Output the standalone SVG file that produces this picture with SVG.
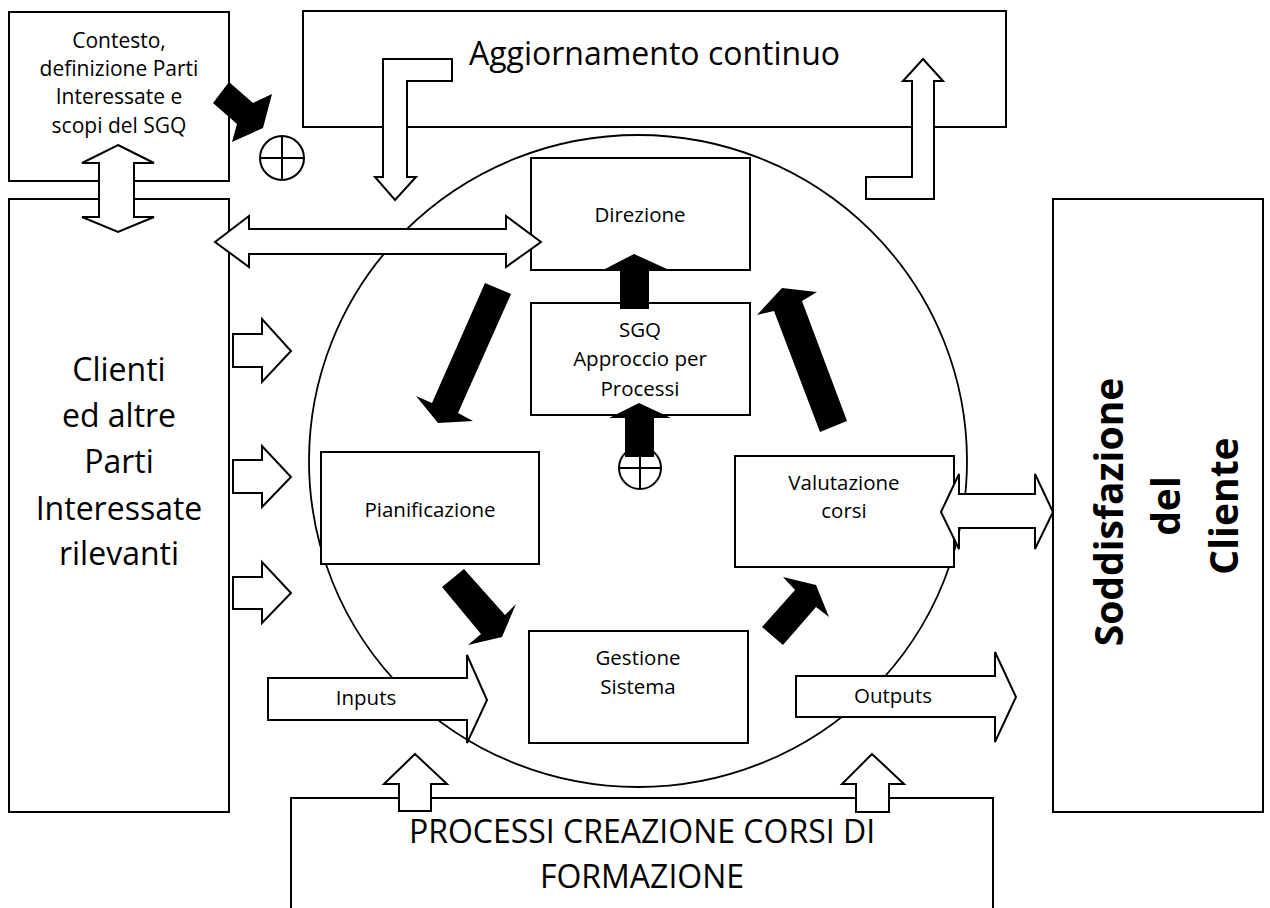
<svg xmlns="http://www.w3.org/2000/svg" width="1270" height="908" viewBox="0 0 1270 908">
<style>
.box{fill:#fff;stroke:#000;stroke-width:2}
.hollow{fill:#fff;stroke:#000;stroke-width:2;stroke-linejoin:miter}
.solid{fill:#000;stroke:none}
.ring{fill:#fff;stroke:#000;stroke-width:2}
.cross{stroke:#000;stroke-width:2}
text{font-family:"Open Sans","Liberation Sans",sans-serif;fill:#000}
.s{font-size:20.5px;text-anchor:middle}
.m{font-size:21px;text-anchor:middle}
.l{font-size:32px;text-anchor:middle}
.b{font-size:39px;font-weight:bold;text-anchor:middle}
</style>
<rect width="1270" height="908" fill="#fff"/>
<g id="cycle"><ellipse cx="638" cy="461" rx="329" ry="326" fill="none" stroke="#000" stroke-width="1.8"/></g>
<g id="n-contesto"><rect class="box" x="9" y="12" width="220" height="169"/>
<text class="m" x="119" y="48">Contesto,</text><text class="m" x="119" y="76">definizione Parti</text><text class="m" x="119" y="104">Interessate e</text><text class="m" x="119" y="133">scopi del SGQ</text></g>
<g id="n-aggiornamento"><rect class="box" x="303" y="11" width="703" height="116"/><text class="l" x="654.5" y="65">Aggiornamento continuo</text></g>
<g id="n-clienti"><rect class="box" x="9" y="199" width="220" height="613"/>
<text class="l" x="119" y="381">Clienti</text><text class="l" x="119" y="427">ed altre</text><text class="l" x="119" y="473">Parti</text><text class="l" x="119" y="520">Interessate</text><text class="l" x="119" y="565">rilevanti</text></g>
<g id="n-soddisfazione"><rect class="box" x="1053" y="199" width="210" height="613"/>
<text class="b" x="1123" y="512" transform="rotate(-90 1123 512)">Soddisfazione</text>
<text class="b" x="1180" y="506" transform="rotate(-90 1180 506)">del</text>
<text class="b" x="1238" y="506" transform="rotate(-90 1238 506)">Cliente</text></g>
<g id="n-direzione"><rect class="box" x="531" y="158" width="219" height="112"/><text class="s" x="640" y="222">Direzione</text></g>
<g id="n-sgq"><rect class="box" x="531" y="303" width="219" height="112"/><text class="s" x="640" y="337">SGQ</text><text class="s" x="640" y="366">Approccio per</text><text class="s" x="640" y="396">Processi</text></g>
<g id="n-pianificazione"><rect class="box" x="321" y="452" width="218" height="112"/><text class="s" x="430" y="517">Pianificazione</text></g>
<g id="n-valutazione"><rect class="box" x="735" y="456" width="219" height="111"/><text class="s" x="844" y="490">Valutazione</text><text class="s" x="844" y="518">corsi</text></g>
<g id="n-gestione"><rect class="box" x="529" y="631" width="219" height="112"/><text class="s" x="638" y="665">Gestione</text><text class="s" x="638" y="694">Sistema</text></g>
<g id="n-processi"><rect class="box" x="291" y="798" width="702" height="130"/><text class="l" x="642" y="843">PROCESSI CREAZIONE CORSI DI</text><text class="l" x="642" y="888">FORMAZIONE</text></g>
<g id="j-top"><circle class="ring" cx="282" cy="158" r="22"/><path class="cross" d="M260,158H304M282,136V180"/></g>
<g id="j-center"><circle class="ring" cx="640" cy="468" r="21"/><path class="cross" d="M619,468H661M640,447V489"/></g>
<g id="connectors">
<polygon class="hollow" points="383,59 452,59 452,81 407,81 407,177 416,177 395,200 375,177 383,177"/>
<polygon class="hollow" points="923,59 943,81 934,81 934,199 866,199 866,177 912,177 912,81 903,81"/>
<polygon class="hollow" points="118,145 154,163 134,163 134,217 154,217 118,232 82,217 99,217 99,163 82,163"/>
<polygon class="hollow" points="215,242 249,216 249,229 506,229 506,216 541,242 506,267 506,254 249,254 249,267"/>
<polygon class="hollow" points="233,334 262,334 262,319 291,351 262,382 262,367 233,367"/>
<polygon class="hollow" points="233,460 262,460 262,446 291,477 262,507 262,493 233,493"/>
<polygon class="hollow" points="233,577 262,577 262,562 291,593 262,623 262,609 233,609"/>
<polygon class="hollow" points="268,678 467,678 467,655 487,700 467,743 467,720 268,720"/>
<polygon class="hollow" points="796,676 995,676 995,652 1016,697 995,742 995,717 796,717"/>
<polygon class="hollow" points="941,512 959,474 959,494 1035,494 1035,474 1053,512 1035,549 1035,528 959,528 959,549"/>
<polygon class="hollow" points="415,754 447,784 431,784 431,811 399,811 399,784 384,784"/>
<polygon class="hollow" points="872,754 904,784 889,784 889,812 856,812 856,784 842,784"/>
<polygon class="solid" points="229,82 253,103 272,94 263,128 232,142 237,124 213,103"/>
<polygon class="solid" points="620,309 649,309 649,269 667,269 634,254 605,269 620,269"/>
<polygon class="solid" points="625,457 654,457 654,418 671,418 639,403 609,418 625,418"/>
<polygon class="solid" points="485,283 511,294 458,413 473,421 438,423 416,396 432,403"/>
<polygon class="solid" points="820,432 847,421 802,301 817,292 782,288 757,315 774,311"/>
<polygon class="solid" points="442,587 464,569 505,615 516,604 502,637 468,645 481,634"/>
<polygon class="solid" points="762,627 795,590 783,577 816,585 829,617 816,607 783,645"/>
<text class="s" x="366" y="705">Inputs</text>
<text class="s" x="893" y="703">Outputs</text>
</g>
</svg>
